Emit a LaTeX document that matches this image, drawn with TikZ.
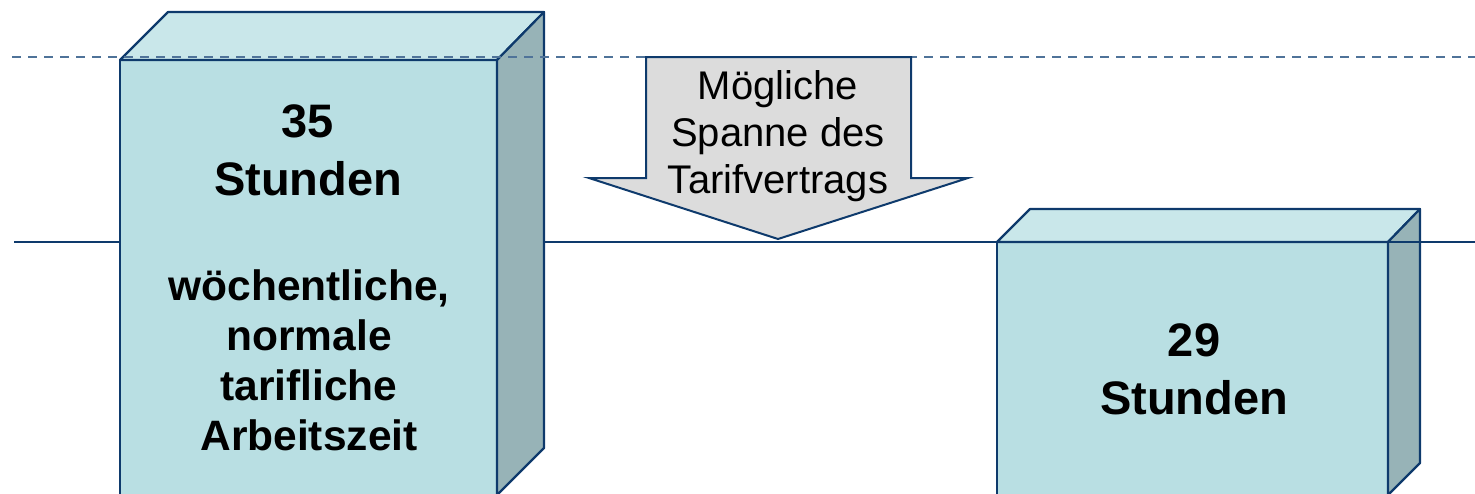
\documentclass[tikz,border=0pt]{standalone}
\usepackage{fontspec}
\setmainfont{Liberation Sans}
\definecolor{frontc}{HTML}{B9DFE3}
\definecolor{topc}{HTML}{C9E7EA}
\definecolor{sidec}{HTML}{97B3B7}
\definecolor{edgec}{HTML}{0E3A6C}
\definecolor{dashc}{HTML}{4F7399}
\definecolor{arrowc}{HTML}{DCDCDC}
\tikzset{
  face/.style={draw=edgec, line width=2.2pt, line join=round},
  bigtxt/.style={font=\fontsize{47}{58}\selectfont\bfseries, align=center, text=black},
  midtxt/.style={font=\fontsize{42.5}{50}\selectfont\bfseries, align=center, text=black},
  arrtxt/.style={font=\fontsize{40}{47}\selectfont, align=center, text=black},
}
\begin{document}
\begin{tikzpicture}[x=1pt,y=-1pt]
\useasboundingbox (0,0) rectangle (1475,493);
\clip (0,0) rectangle (1475,493);
% right box
\coordinate (ra) at (997,242);
\coordinate (rb) at (1388,242);
\coordinate (rc) at (1388,530);
\coordinate (rd) at (997,530);
\coordinate (re) at (1030,209);
\coordinate (rf) at (1420,209);
\coordinate (rg) at (1420,463);
\fill[frontc] (ra) -- (rb) -- (rc) -- (rd) -- cycle;
\draw[face, fill=topc] (ra) -- (re) -- (rf) -- (rb) -- cycle;
\draw[face, fill=sidec] (rb) -- (rf) -- (rg) -- (1388,495) -- (rc) -- cycle;
\draw[face] (rd) -- (ra) -- (rb) -- (rc);
% solid line
\coordinate (sl) at (14,242);
\coordinate (sr) at (1480,242);
\draw[edgec, line width=2pt] (sl) -- (sr);
% left box
\coordinate (la) at (120,60);
\coordinate (lb) at (497,60);
\coordinate (lc) at (497,530);
\coordinate (ld) at (120,530);
\coordinate (le) at (168,12);
\coordinate (lf) at (544,12);
\coordinate (lg) at (544,448);
\fill[frontc] (la) -- (lb) -- (lc) -- (ld) -- cycle;
\draw[face, fill=topc] (la) -- (le) -- (lf) -- (lb) -- cycle;
\draw[face, fill=sidec] (lb) -- (lf) -- (lg) -- (497,495) -- (lc) -- cycle;
\draw[face] (ld) -- (la) -- (lb) -- (lc);
% dashed line
\coordinate (dl) at (12,57);
\coordinate (dr) at (1480,57);
\draw[dashc, line width=1.4pt, dash pattern=on 9pt off 7pt] (dl) -- (dr);
% arrow
\coordinate (a1) at (646,57);
\coordinate (a2) at (911,57);
\coordinate (a3) at (911,178);
\coordinate (a4) at (968,178);
\coordinate (a5) at (778,239);
\coordinate (a6) at (589,178);
\coordinate (a7) at (646,178);
\draw[face, fill=arrowc, line width=2pt, line join=miter] (a1) -- (a2) -- (a3) -- (a4) -- (a5) -- (a6) -- (a7) -- cycle;
% texts
\node[bigtxt] (t35) at (308,150) {35\\Stunden};
\node[midtxt] (tdesc) at (309,360) {wöchentliche,\\normale\\tarifliche\\Arbeitszeit};
\node[bigtxt] (t29) at (1194,369) {29\\Stunden};
\node[arrtxt] (tarr) at (778,136) {Mögliche\\Spanne des\\Tarifvertrags};
\end{tikzpicture}
\end{document}
